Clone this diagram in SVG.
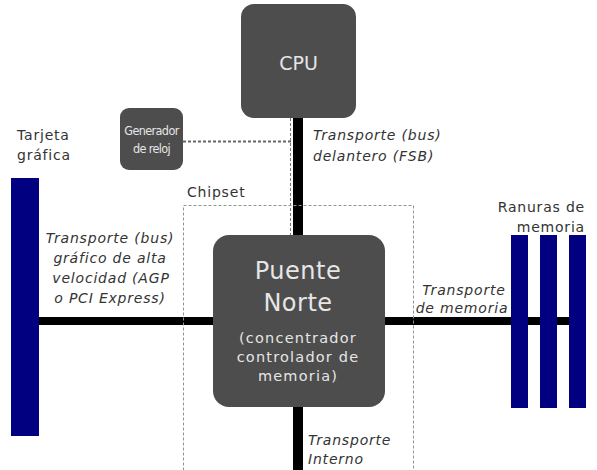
<svg xmlns="http://www.w3.org/2000/svg" width="597" height="470" viewBox="0 0 597 470">
<style>
.box{fill:#4d4d4d}
.bar{fill:#000080}
.bus{stroke:#000;fill:none}
.t{font-family:"DejaVu Sans","Verdana",sans-serif;fill:#333;font-size:14px;letter-spacing:0.8px}
.it{font-style:italic}
.w{fill:#e6e6e6}
.mid{text-anchor:middle}
.end{text-anchor:end}
.cond{font-size:12.5px;letter-spacing:-0.6px;font-stretch:condensed}
</style>
<rect width="597" height="470" fill="#fff"/>
<g id="connectors">
<line class="bus" x1="298" y1="118" x2="298" y2="236" stroke-width="10"/>
<line class="bus" x1="298" y1="406" x2="298" y2="470" stroke-width="10"/>
<line class="bus" x1="38" y1="321" x2="214" y2="321" stroke-width="8"/>
<line class="bus" x1="384" y1="321" x2="569" y2="321" stroke-width="8"/>
<line x1="183" y1="141.5" x2="291" y2="141.5" stroke="#666" stroke-width="2" stroke-dasharray="3,2"/>
<line x1="290.5" y1="118" x2="290.5" y2="236" stroke="#777" stroke-width="1" stroke-dasharray="3,2"/>
</g>
<g id="chipset">
<rect x="183.5" y="205.5" width="230" height="280" fill="none" stroke="#8a9a8a" stroke-width="1" stroke-dasharray="3,2"/>
<text class="t" x="187" y="197">Chipset</text>
</g>
<g id="cpu">
<rect class="box" x="241" y="4" width="115" height="114" rx="13"/>
<text class="t w mid" x="298.5" y="70" style="font-size:19px;letter-spacing:0">CPU</text>
</g>
<g id="reloj">
<rect class="box" x="120" y="108" width="63" height="62" rx="9"/>
<text class="t w mid cond" x="151.5" y="135">Generador</text>
<text class="t w mid cond" x="151.5" y="153">de reloj</text>
</g>
<g id="puente-norte">
<rect class="box" x="213" y="235" width="172" height="172" rx="16"/>
<text class="t w mid" x="298" y="279" style="font-size:24px;letter-spacing:0.5px">Puente</text>
<text class="t w mid" x="298" y="311" style="font-size:24px;letter-spacing:0.5px">Norte</text>
<text class="t w mid" x="298" y="343" style="font-size:14.5px;letter-spacing:1.2px">(concentrador</text>
<text class="t w mid" x="298" y="362" style="font-size:14.5px;letter-spacing:1.2px">controlador de</text>
<text class="t w mid" x="298" y="381" style="font-size:14.5px;letter-spacing:1.2px">memoria)</text>
</g>
<g id="tarjeta-grafica">
<rect class="bar" x="11" y="178" width="28" height="258"/>
<text class="t" x="17" y="140">Tarjeta</text>
<text class="t" x="17" y="160">gráfica</text>
</g>
<g id="ranuras-memoria">
<rect class="bar" x="511" y="235" width="17" height="173"/>
<rect class="bar" x="540" y="235" width="17" height="173"/>
<rect class="bar" x="569" y="235" width="17" height="173"/>
<text class="t end" x="585" y="212">Ranuras de</text>
<text class="t end" x="585" y="232">memoria</text>
</g>
<g id="labels">
<text class="t it" x="313" y="140">Transporte (bus)</text>
<text class="t it" x="313" y="161">delantero (FSB)</text>
<text class="t it mid" x="110" y="243">Transporte (bus)</text>
<text class="t it mid" x="110" y="263">gráfico de alta</text>
<text class="t it mid" x="111" y="283">velocidad (AGP</text>
<text class="t it mid" x="110" y="303">o PCI Express)</text>
<text class="t it mid" x="464" y="295">Transporte</text>
<text class="t it mid" x="462" y="313">de memoria</text>
<text class="t it" x="308" y="445">Transporte</text>
<text class="t it" x="308" y="464">Interno</text>
</g>
</svg>
